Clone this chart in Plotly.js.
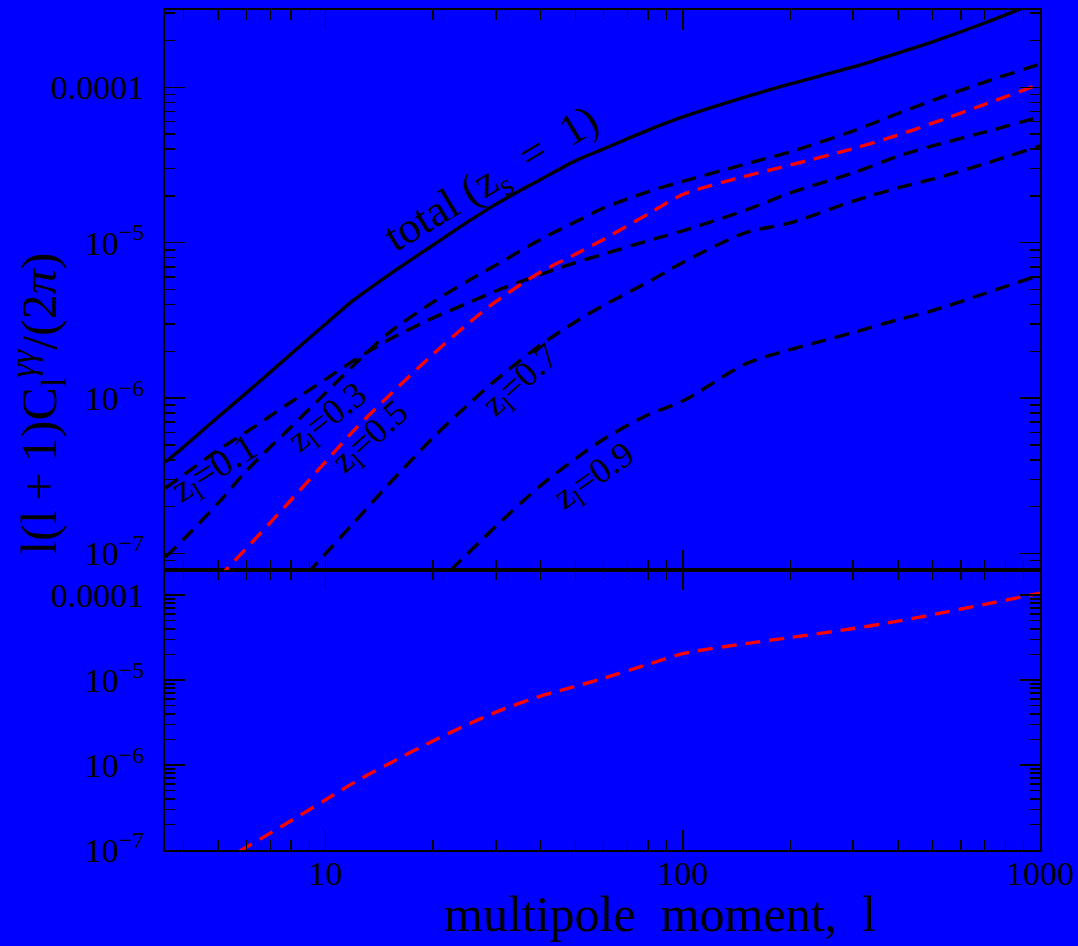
<!DOCTYPE html>
<html>
<head>
<meta charset="utf-8">
<script src="https://cdn.plot.ly/plotly-3.0.1.min.js"></script>
<style>html,body{margin:0;padding:0;background:#0000ff;}#plot{width:1078px;height:946px;}</style>
</head>
<body>
<div id="plot"></div>
<script>
// multipole moment l
const ell = [3.56,4,5,6,7,8,10,12,15,20,25,30,40,50,60,80,100,150,200,300,400,500,700,1000];
// total (z_s = 1)
const total = [3.88e-7,4.84e-7,7.55e-7,1.08e-6,1.47e-6,1.92e-6,3.00e-6,4.28e-6,6.19e-6,9.66e-6,1.36e-5,1.77e-5,2.55e-5,3.36e-5,4.01e-5,5.30e-5,6.44e-5,8.67e-5,1.05e-4,1.35e-4,1.66e-4,1.96e-4,2.59e-4,3.59e-4];
// z_l = 0.1
const z01 = [2.64e-7,3.20e-7,4.63e-7,6.05e-7,7.67e-7,9.44e-7,1.32e-6,1.75e-6,2.37e-6,3.28e-6,4.09e-6,4.89e-6,6.24e-6,7.43e-6,8.43e-6,1.03e-5,1.19e-5,1.62e-5,2.09e-5,2.81e-5,3.60e-5,4.19e-5,5.15e-5,6.44e-5];
// z_l = 0.3
const z03 = [9.48e-8,1.23e-7,2.11e-7,3.40e-7,4.84e-7,6.52e-7,1.08e-6,1.63e-6,2.62e-6,4.15e-6,5.67e-6,7.18e-6,1.05e-5,1.36e-5,1.67e-5,2.13e-5,2.48e-5,3.21e-5,3.84e-5,5.24e-5,6.78e-5,8.22e-5,1.08e-4,1.41e-4];
// z_l = 0.5 (red; also the lower panel)
const ell05 = [5,6,7,8,10,12,15,20,25,30,40,50,60,80,100,150,200,300,400,500,700,1000];
const z05 = [6.95e-8,1.08e-7,1.58e-7,2.21e-7,3.90e-7,6.20e-7,1.03e-6,1.92e-6,3.00e-6,4.19e-6,6.48e-6,8.41e-6,1.05e-5,1.53e-5,2.04e-5,2.68e-5,3.16e-5,4.03e-5,4.92e-5,5.87e-5,7.76e-5,1.05e-4];
// z_l = 0.7
const ell07 = [8,10,12,15,20,25,30,40,50,60,80,100,150,200,300,400,500,700,1000];
const z07 = [5.69e-8,1.00e-7,1.58e-7,2.78e-7,5.57e-7,9.03e-7,1.31e-6,2.20e-6,3.09e-6,3.95e-6,5.58e-6,7.46e-6,1.16e-5,1.34e-5,1.85e-5,2.25e-5,2.56e-5,3.22e-5,4.19e-5];
// z_l = 0.9
const ell09 = [20,25,30,40,50,60,80,100,150,200,300,400,500,700,1000];
const z09 = [6.08e-8,1.00e-7,1.50e-7,2.74e-7,4.06e-7,5.44e-7,7.81e-7,9.57e-7,1.66e-6,2.05e-6,2.64e-6,3.20e-6,3.65e-6,4.71e-6,6.19e-6];

// tick labels
const xTickVals = [10,100,1000];
const xTickText = ['10','100','1000'];
const yTickVals = [1e-7,1e-6,1e-5,1e-4];
const yTickText = ['10<sup>\u22127</sup>','10<sup>\u22126</sup>','10<sup>\u22125</sup>','0.0001'];

function minorLog(d0, d1){ const v=[]; for(let d=d0; d<=d1; d++){ for(let m=2;m<=9;m++){ v.push(m*Math.pow(10,d)); } } return v; }
const xMinor = minorLog(0,2);
const yMinor = minorLog(-8,-4);

const FONT = 'Liberation Serif, Times New Roman, serif';
const dash = '15px,9px';
const LW = 3.4;

function line(color, d){ const o = {color:color, width:LW, shape:'spline', smoothing:0.8}; if(d) o.dash = d; return o; }

const traces = [
  {x: ell, y: total, xaxis:'x2', yaxis:'y2', mode:'lines', line:line('black')},
  {x: ell, y: z01, xaxis:'x2', yaxis:'y2', mode:'lines', line:line('black', dash)},
  {x: ell, y: z03, xaxis:'x2', yaxis:'y2', mode:'lines', line:line('black', dash)},
  {x: ell07, y: z07, xaxis:'x2', yaxis:'y2', mode:'lines', line:line('black', dash)},
  {x: ell09, y: z09, xaxis:'x2', yaxis:'y2', mode:'lines', line:line('black', dash)},
  {x: ell05, y: z05, xaxis:'x2', yaxis:'y2', mode:'lines', line:line('#ff0000', dash)},
  {x: ell05, y: z05, xaxis:'x', yaxis:'y', mode:'lines', line:line('#ff0000', dash)}
];

const tickCommon = {
  ticks:'inside', tickcolor:'black', tickwidth:1.5, ticklen:20,
  showline:true, linecolor:'black', linewidth:2, mirror:'ticks',
  showgrid:false, zeroline:false,
  tickfont:{family:FONT, size:34, color:'black'}
};

const xBase = Object.assign({}, tickCommon, {
  type:'log', range:[0.5504, 3.0], tickmode:'array', tickvals:xTickVals, ticktext:xTickText,
  minor:{tickmode:'array', tickvals:xMinor, ticks:'inside', ticklen:10, tickwidth:1.5, tickcolor:'black', showgrid:false}
});
const yBase = Object.assign({}, tickCommon, {
  type:'log', tickmode:'array', tickvals:yTickVals, ticktext:yTickText,
  minor:{tickmode:'array', tickvals:yMinor, ticks:'inside', ticklen:10, tickwidth:1.5, tickcolor:'black', showgrid:false}
});

const layout = {
  width:1078, height:946,
  paper_bgcolor:'#0000ff', plot_bgcolor:'#0000ff',
  showlegend:false,
  margin:{l:165, r:38, t:10, b:96},
  xaxis: Object.assign({}, xBase, {anchor:'y', domain:[0,1], ticklabelstandoff:-8}),
  xaxis2: Object.assign({}, xBase, {anchor:'y2', domain:[0,1], showticklabels:false}),
  yaxis: Object.assign({}, yBase, {anchor:'x', domain:[0,0.33333], range:[-7.0, -3.706], ticklabelstandoff:12}),
  yaxis2: Object.assign({}, yBase, {anchor:'x2', domain:[0.33333,1], range:[-7.106, -3.503], ticklabelstandoff:12}),
  annotations:[
    {xref:'paper', yref:'paper', x:-0.143, y:0.531, xanchor:'center', yanchor:'middle', textangle:-90, showarrow:false,
     text:'l(l\u2009+\u20091)C<sub>l</sub><sup><i>\u03b3\u03b3</i></sup>/(2<i>\u03c0</i>)', font:{family:FONT, size:50, color:'black'}},
    {xref:'paper', yref:'paper', x:0.566, y:-0.1115, xanchor:'center', yanchor:'bottom', showarrow:false,
     text:'multipole\u00a0 moment,\u00a0 l', font:{family:FONT, size:50, color:'black'}},
    {xref:'x2', yref:'y2', x:1.468, y:-4.597, textangle:-31, showarrow:false,
     text:'total (z<sub>s</sub>\u00a0 =\u00a0 1)', font:{family:FONT, size:44, color:'black'}},
    {xref:'x2', yref:'y2', x:0.692, y:-6.463, textangle:-32, showarrow:false,
     text:'z<sub>l</sub>=0.1', font:{family:FONT, size:38, color:'black'}},
    {xref:'x2', yref:'y2', x:1.008, y:-6.128, textangle:-38, showarrow:false,
     text:'z<sub>l</sub>=0.3', font:{family:FONT, size:36, color:'black'}},
    {xref:'x2', yref:'y2', x:1.126, y:-6.257, textangle:-42, showarrow:false,
     text:'z<sub>l</sub>=0.5', font:{family:FONT, size:36, color:'black'}},
    {xref:'x2', yref:'y2', x:1.549, y:-5.896, textangle:-42, showarrow:false,
     text:'z<sub>l</sub>=0.7', font:{family:FONT, size:36, color:'black'}},
    {xref:'x2', yref:'y2', x:1.753, y:-6.511, textangle:-35, showarrow:false,
     text:'z<sub>l</sub>=0.9', font:{family:FONT, size:36, color:'black'}}
  ]
};

Plotly.newPlot('plot', traces, layout, {staticPlot:true, displayModeBar:false});
</script>
</body>
</html>
